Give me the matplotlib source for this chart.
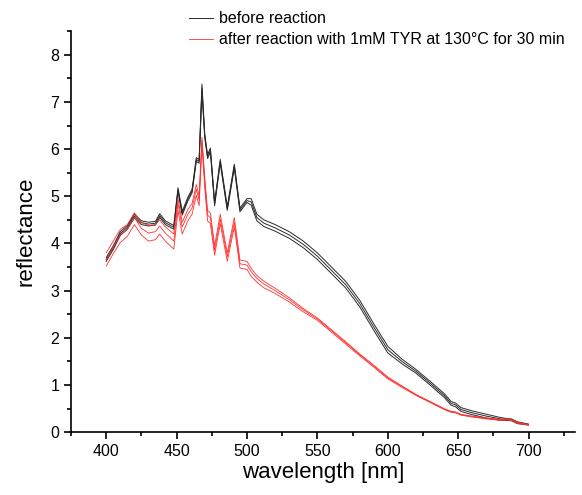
import matplotlib
matplotlib.use("Agg")
import matplotlib.pyplot as plt
from matplotlib.ticker import MultipleLocator

plt.rcParams["font.family"] = ["Liberation Sans", "DejaVu Sans"]

# wavelength grid [nm]
wl = [400, 405, 410, 415, 420, 425, 430, 435, 438, 442, 448, 451, 454, 458, 461,
      464, 466, 468, 470, 472, 474, 477, 481, 486, 491, 495, 500, 503, 507, 512,
      520, 530, 540, 550, 560, 570, 580, 590, 600, 610, 620, 630, 640, 645, 648,
      652, 660, 670, 680, 684, 688, 692, 700]

# before reaction (3 spectra)
before_1 = [3.70, 3.95, 4.25, 4.38, 4.62, 4.48, 4.45, 4.47, 4.63, 4.48, 4.38, 5.18, 4.68, 4.98, 5.15,
            5.82, 5.78, 7.38, 6.32, 5.88, 6.02, 4.88, 5.78, 4.78, 5.68, 4.75, 4.95, 4.95, 4.62, 4.50,
            4.40, 4.25, 4.05, 3.80, 3.50, 3.20, 2.80, 2.30, 1.82, 1.55, 1.33, 1.08, 0.82, 0.65, 0.62,
            0.52, 0.45, 0.38, 0.31, 0.29, 0.28, 0.22, 0.17]
before_2 = [3.66, 3.91, 4.21, 4.34, 4.58, 4.44, 4.41, 4.43, 4.59, 4.44, 4.34, 5.14, 4.64, 4.94, 5.11,
            5.78, 5.74, 7.30, 6.28, 5.84, 5.98, 4.84, 5.74, 4.74, 5.64, 4.71, 4.91, 4.88, 4.55, 4.43,
            4.33, 4.18, 3.98, 3.73, 3.43, 3.13, 2.73, 2.23, 1.75, 1.50, 1.29, 1.04, 0.78, 0.61, 0.58,
            0.48, 0.41, 0.34, 0.28, 0.27, 0.26, 0.20, 0.16]
before_3 = [3.62, 3.87, 4.17, 4.30, 4.54, 4.40, 4.37, 4.39, 4.55, 4.40, 4.30, 5.10, 4.60, 4.90, 5.07,
            5.74, 5.70, 7.22, 6.24, 5.80, 5.94, 4.80, 5.70, 4.70, 5.60, 4.67, 4.87, 4.81, 4.48, 4.36,
            4.26, 4.11, 3.91, 3.66, 3.36, 3.06, 2.66, 2.16, 1.68, 1.45, 1.25, 1.00, 0.74, 0.57, 0.54,
            0.44, 0.37, 0.30, 0.25, 0.25, 0.24, 0.18, 0.15]

# after reaction (3 spectra)
after_1 = [3.80, 4.05, 4.30, 4.40, 4.65, 4.45, 4.38, 4.40, 4.50, 4.35, 4.20, 4.95, 4.45, 4.72, 4.85,
           5.25, 5.00, 6.25, 5.40, 4.70, 4.65, 3.95, 4.62, 3.80, 4.55, 3.65, 3.62, 3.47, 3.32, 3.20,
           3.05, 2.85, 2.62, 2.42, 2.17, 1.92, 1.66, 1.42, 1.17, 0.98, 0.80, 0.65, 0.50, 0.44, 0.43,
           0.38, 0.34, 0.30, 0.27, 0.28, 0.27, 0.21, 0.16]
after_2 = [3.65, 3.92, 4.18, 4.30, 4.55, 4.32, 4.22, 4.25, 4.37, 4.22, 4.05, 4.85, 4.35, 4.62, 4.75,
           5.15, 4.92, 6.18, 5.30, 4.60, 4.55, 3.85, 4.52, 3.72, 4.45, 3.57, 3.54, 3.40, 3.26, 3.14,
           3.00, 2.81, 2.59, 2.40, 2.15, 1.90, 1.64, 1.40, 1.15, 0.97, 0.79, 0.64, 0.49, 0.43, 0.42,
           0.37, 0.33, 0.29, 0.26, 0.27, 0.26, 0.20, 0.15]
after_3 = [3.52, 3.78, 4.02, 4.15, 4.40, 4.18, 4.05, 4.08, 4.20, 4.05, 3.88, 4.70, 4.20, 4.48, 4.62,
           5.02, 4.80, 6.10, 5.18, 4.48, 4.42, 3.75, 4.42, 3.62, 4.35, 3.48, 3.45, 3.30, 3.18, 3.06,
           2.94, 2.76, 2.55, 2.37, 2.12, 1.87, 1.62, 1.38, 1.13, 0.95, 0.78, 0.63, 0.48, 0.42, 0.41,
           0.36, 0.32, 0.28, 0.25, 0.26, 0.25, 0.19, 0.15]

BLACK = "#2a2a2a"
RED = "#ff3030"

fig = plt.figure(figsize=(5.82, 4.95), dpi=100)
ax = fig.add_axes([0.122, 0.127, 0.866, 0.81])

for i, y in enumerate([before_1, before_2, before_3]):
    ax.plot(wl, y, color=BLACK, lw=0.7, label="before reaction" if i == 0 else None)
for i, y in enumerate([after_1, after_2, after_3]):
    ax.plot(wl, y, color=RED, lw=0.6,
            label="after reaction with 1mM TYR at 130°C for 30 min" if i == 0 else None)

ax.set_xlim(375, 733)
ax.set_ylim(0, 8.5)
ax.xaxis.set_major_locator(MultipleLocator(50))
ax.xaxis.set_minor_locator(MultipleLocator(25))
ax.yaxis.set_major_locator(MultipleLocator(1))
ax.yaxis.set_minor_locator(MultipleLocator(0.5))
ax.set_xticks([400, 450, 500, 550, 600, 650, 700])

for s in ["top", "right"]:
    ax.spines[s].set_visible(False)
for s in ["left", "bottom"]:
    ax.spines[s].set_linewidth(1.2)
ax.tick_params(which="major", direction="out", length=5, width=1.2, labelsize=11.5)
ax.tick_params(which="minor", direction="out", length=3, width=1.2)

ax.set_xlabel("wavelength [nm]", fontsize=16, labelpad=2)
ax.set_ylabel("reflectance", fontsize=16, labelpad=10)

leg = ax.legend(loc="upper left", bbox_to_anchor=(0.222, 1.066), frameon=False,
                fontsize=11.5, handlelength=1.5, handletextpad=0.35,
                labelspacing=0.38, borderaxespad=0)

fig.savefig("out.png", dpi=100)
